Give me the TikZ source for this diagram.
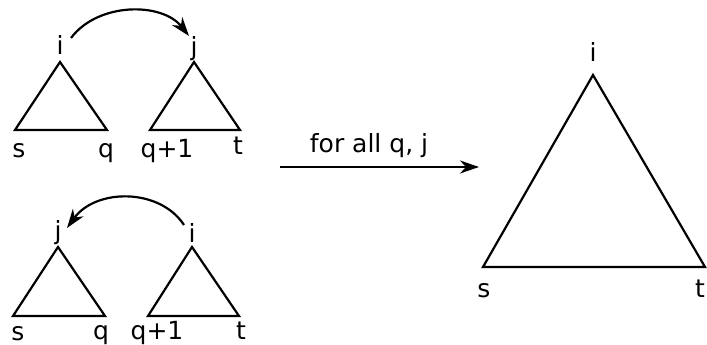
\documentclass[tikz,border=0pt]{standalone}
\usepackage{fontspec}
\setmainfont{DejaVu Sans}
\usetikzlibrary{arrows.meta}
\begin{document}
\begin{tikzpicture}[x=1pt,y=-1pt,
  lbl/.style={inner sep=0pt,anchor=base,font=\fontsize{25}{29}\selectfont},
  tri/.style={line width=2.2pt,line join=miter},
  conn/.style={line width=2.2pt,-{Stealth[length=19pt,width=13pt,inset=6pt]}}]
\useasboundingbox (0,0) rectangle (707,345);
\clip (0,0) rectangle (707,345);
% top-left pair
\coordinate (A1) at (60,62); \coordinate (A1l) at (15,130); \coordinate (A1r) at (107,130);
\coordinate (B1) at (194,62); \coordinate (B1l) at (150,130); \coordinate (B1r) at (240,130);
\draw[tri] (A1) -- (A1l) -- (A1r) -- cycle;
\draw[tri] (B1) -- (B1l) -- (B1r) -- cycle;
\node[lbl] (i1) at (60,55) {i};
\node[lbl] (j1) at (194,56) {j};
\node[lbl] (s1) at (19,157) {s};
\node[lbl] (q1) at (106,157) {q};
\node[lbl] (qq1) at (167,157) {q+1};
\node[lbl] (t1) at (238,154) {t};
\coordinate (c1s) at (71,38); \coordinate (c1e) at (189,36);
\draw[conn] (c1s) .. controls (98,2) and (162,2) .. (c1e);
% bottom-left pair
\coordinate (A2) at (58,247); \coordinate (A2l) at (13,316); \coordinate (A2r) at (105,316);
\coordinate (B2) at (192,247); \coordinate (B2l) at (148,316); \coordinate (B2r) at (239,316);
\draw[tri] (A2) -- (A2l) -- (A2r) -- cycle;
\draw[tri] (B2) -- (B2l) -- (B2r) -- cycle;
\node[lbl] (j2) at (58,239) {j};
\node[lbl] (i2) at (192,242) {i};
\node[lbl] (s2) at (18,340) {s};
\node[lbl] (q2) at (101,339) {q};
\node[lbl] (qq2) at (157,339) {q+1};
\node[lbl] (t2) at (241,339) {t};
\coordinate (c2s) at (184,225); \coordinate (c2e) at (67,228);
\draw[conn] (c2s) .. controls (160,188) and (96,188) .. (c2e);
% middle arrow
\coordinate (m1) at (280,167); \coordinate (m2) at (479,167);
\draw[conn] (m1) -- (m2);
\node[lbl] (lab) at (369,152) {for all q, j};
% big triangle
\coordinate (C) at (593,75); \coordinate (Cl) at (483,267); \coordinate (Cr) at (705,267);
\draw[tri] (C) -- (Cl) -- (Cr) -- cycle;
\node[lbl] (i3) at (593,62) {i};
\node[lbl] (s3) at (484,297) {s};
\node[lbl] (t3) at (700,297) {t};
\end{tikzpicture}
\end{document}
